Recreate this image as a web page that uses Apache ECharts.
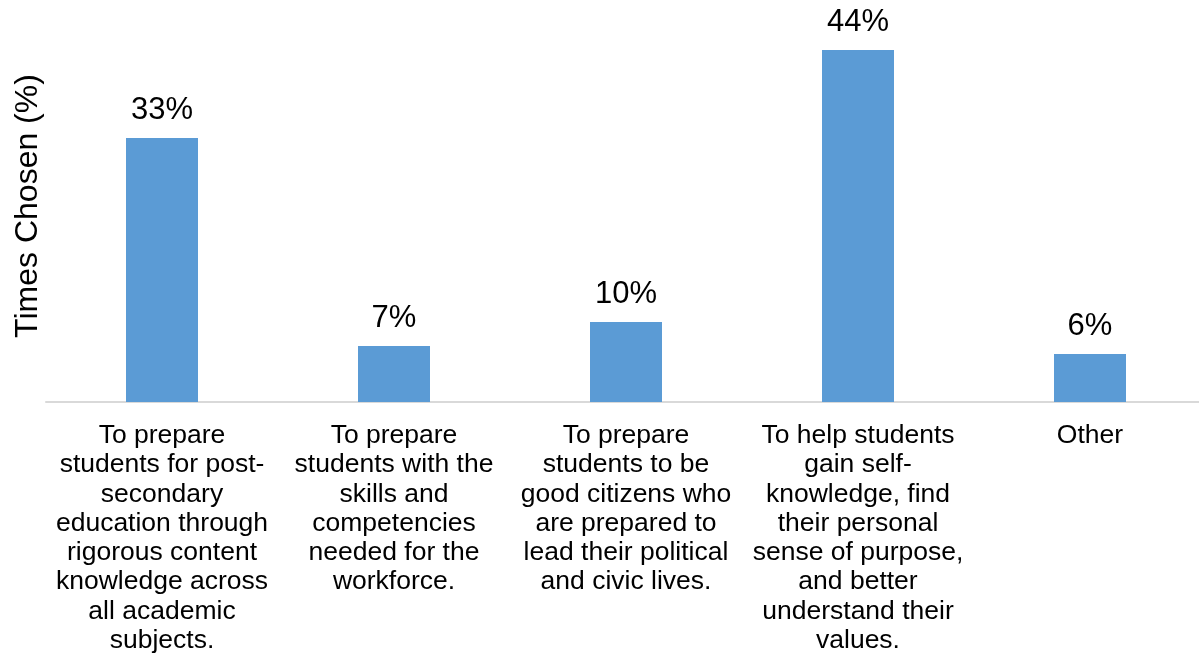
<!DOCTYPE html>
<html>
<head>
<meta charset="utf-8">
<script src="https://cdn.jsdelivr.net/npm/echarts@6/dist/echarts.min.js"></script>
<style>
  html, body { margin: 0; padding: 0; background: #fff; }
  #chart { width: 1199px; height: 664px; }
</style>
</head>
<body>
<div id="chart"></div>
<script>
// Response categories (line breaks as set in the axis labels)
const categories = [
  'To prepare\nstudents for post-\nsecondary\neducation through\nrigorous content\nknowledge across\nall academic\nsubjects.',
  'To prepare\nstudents with the\nskills and\ncompetencies\nneeded for the\nworkforce.',
  'To prepare\nstudents to be\ngood citizens who\nare prepared to\nlead their political\nand civic lives.',
  'To help students\ngain self-\nknowledge, find\ntheir personal\nsense of purpose,\nand better\nunderstand their\nvalues.',
  'Other'
];

// Share of times each option was chosen (%)
const timesChosen = [33, 7, 10, 44, 6];

const axisTitle = 'Times Chosen (%)';

const chart = echarts.init(document.getElementById('chart'), null, { renderer: 'canvas' });

chart.setOption({
  animation: false,
  textStyle: { fontFamily: '"Liberation Sans", Arial, sans-serif' },
  // plot area runs a little past the right edge of the canvas
  grid: {
    left: 46, width: 1160, top: 2, bottom: 262,
    containLabel: false,
    outerBoundsMode: 'none'
  },
  xAxis: {
    type: 'category',
    data: categories,
    axisLine: { show: true, lineStyle: { color: '#d9d9d9', width: 2 } },
    axisTick: { show: false },
    axisLabel: {
      interval: 0,
      margin: 19,
      color: '#000',
      fontSize: 26.5,
      lineHeight: 29.3,
      align: 'center',
      fontFamily: '"Liberation Sans", Arial, sans-serif'
    }
  },
  yAxis: {
    type: 'value',
    min: 0,
    max: 50,
    interval: 10,
    name: axisTitle,
    nameLocation: 'middle',
    nameRotate: 90,
    nameGap: 2,
    nameTextStyle: {
      color: '#000',
      fontSize: 32,
      padding: [0, 8, 0, 0],
      fontFamily: '"Liberation Sans", Arial, sans-serif'
    },
    axisLine: { show: false },
    axisTick: { show: false },
    axisLabel: { show: false },
    splitLine: { show: false }
  },
  series: [{
    type: 'bar',
    data: timesChosen,
    barWidth: 72,
    itemStyle: { color: '#5b9bd5' },
    label: {
      show: true,
      position: 'top',
      distance: 12,
      color: '#000',
      fontSize: 31,
      fontFamily: '"Liberation Sans", Arial, sans-serif',
      formatter: p => p.value + '%'
    }
  }]
});
</script>
</body>
</html>
